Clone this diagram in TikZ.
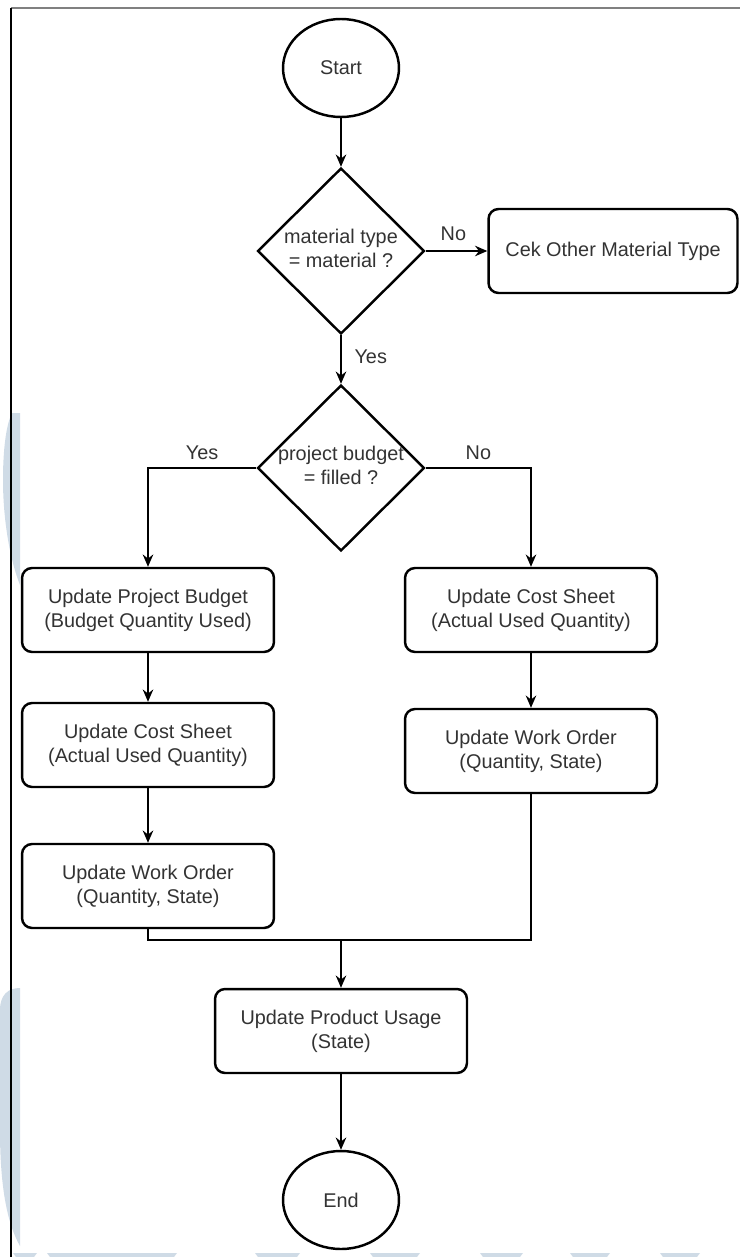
\documentclass[tikz,border=0pt]{standalone}
\usepackage{fontspec}
\setmainfont{Liberation Sans}
\usepackage{tikz}
\usetikzlibrary{shapes.geometric,arrows.meta}
\usepackage{xcolor}

\definecolor{txtgray}{HTML}{333333}
\definecolor{wmblue}{HTML}{CFDBE6}
\newcommand{\dtext}[2]{\makebox[0pt]{\begin{tabular}{@{}c@{}}#1\\#2\end{tabular}}}

\begin{document}
\begin{tikzpicture}[x=0.02cm,y=-0.02cm,
	every node/.style={font=\fontsize{11.3}{13.7}\selectfont,text=txtgray},
	terminal/.style={ellipse,draw=black,line width=1.4pt,minimum width=2.32cm,minimum height=1.96cm,inner sep=0pt},
	decision/.style={diamond,draw=black,line width=1.4pt,minimum width=3.34cm,minimum height=3.32cm,inner sep=0pt},
	process/.style={rectangle,rounded corners=2mm,draw=black,line width=1.4pt,minimum width=5.04cm,minimum height=1.68cm,align=center},
	flow/.style={line width=0.75pt,-{Stealth[length=7pt,width=6pt]}},
	branch/.style={line width=0.75pt},
	wm/.style={fill=wmblue}]
\useasboundingbox (0,0) rectangle (740,1257);
\fill[wm] (12,413) -- (20,413) -- (20,585) .. controls (10,560) and (3,520) .. (3,480) .. controls (3,450) and (6,425) .. (12,413) -- cycle;
\fill[wm] (20,988) -- (20,1246) .. controls (8,1225) and (0,1190) .. (0,1130) -- (0,1010) .. controls (0,995) and (8,988) .. (20,988) -- cycle;
\foreach \a/\b in {13/37,47/177,255/300,370/420,480/523,570/610,660/700}
	\fill[wm] (\a,1253) -- (\b,1253) -- (\b-3,1257) -- (\a+3,1257) -- cycle;
\draw[gray,line width=1.2pt] (11,8) -- (740,8);
\draw[line width=0.8pt] (11,8) -- (11,1257);

\node[terminal] (start) at (341,68) {Start};
\node[decision] (mattype) at (341,251) {\dtext{material type}{= material ?}};
\node[process,minimum width=4.98cm] (cekother) at (613,251) {Cek Other Material Type};
\node[decision] (budget) at (341,468) {\dtext{project budget}{= filled ?}};
\node[process] (updbudget) at (148,610) {Update Project Budget\\(Budget Quantity Used)};
\node[process] (lcost) at (148,745) {Update Cost Sheet\\(Actual Used Quantity)};
\node[process] (lwork) at (148,886) {Update Work Order\\(Quantity, State)};
\node[process] (rcost) at (531,610) {Update Cost Sheet\\(Actual Used Quantity)};
\node[process] (rwork) at (531,751) {Update Work Order\\(Quantity, State)};
\coordinate (join) at (341,940);
\node[process] (usage) at (341,1031) {Update Product Usage\\(State)};
\node[terminal] (end) at (341,1200) {End};

\draw[flow] (start) -- (mattype);
\draw[flow] (mattype.east) -- node[above,pos=0.45,yshift=2pt] {No} (cekother.west);
\draw[flow] (mattype.south) -- node[right,pos=0.45,xshift=4pt] {Yes} (budget.north);
\draw[flow] (budget.west) -| node[above,pos=0.25,yshift=1pt] {Yes} (updbudget.north);
\draw[flow] (budget.east) -| node[above,pos=0.25,yshift=1pt] {No} (rcost.north);
\draw[flow] (updbudget) -- (lcost);
\draw[flow] (lcost) -- (lwork);
\draw[flow] (rcost) -- (rwork);
\draw[branch] (lwork.south) |- (join) -| (rwork.south);
\draw[flow] (join) -- (usage);
\draw[flow] (usage) -- (end);
\end{tikzpicture}
\end{document}
